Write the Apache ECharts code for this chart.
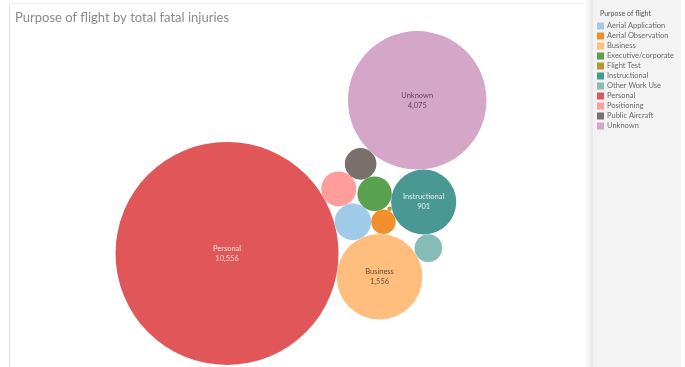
<!DOCTYPE html>
<html>
<head>
<meta charset="utf-8">
<script src="https://cdn.jsdelivr.net/npm/echarts@6/dist/echarts.min.js"></script>
<style>
  html, body { margin: 0; padding: 0; background: #ffffff; }
  #chart { width: 685px; height: 367px; }
</style>
</head>
<body>
<div id="chart"></div>
<script>
// Purpose of flight and total fatal injuries
const categories = [
  'Aerial Application', 'Aerial Observation', 'Business', 'Executive/corporate',
  'Flight Test', 'Instructional', 'Other Work Use', 'Personal',
  'Positioning', 'Public Aircraft', 'Unknown'
];
const fatalInjuries = [284, 128, 1556, 251, 4, 901, 162, 10556, 260, 212, 4075];

const palette = {
  'Aerial Application': '#a0cbe8',
  'Aerial Observation': '#f28e2b',
  'Business': '#ffbe7d',
  'Executive/corporate': '#59a14f',
  'Flight Test': '#b6992d',
  'Instructional': '#499894',
  'Other Work Use': '#86bcb6',
  'Personal': '#e15759',
  'Positioning': '#ff9d9a',
  'Public Aircraft': '#79706e',
  'Unknown': '#d4a6c8'
};
const labelColors = {
  'Personal': 'rgba(255,235,235,0.9)',
  'Instructional': 'rgba(240,250,249,0.9)',
  'Business': 'rgba(70,55,40,0.85)',
  'Unknown': 'rgba(80,50,80,0.85)'
};

const W = 685, H = 367;
// pane that holds the bubbles (left of the legend, below the title)
const pane = { x0: 9, x1: 593, y0: 29, y1: 367 };
const maxRadius = 111.5;              // radius of the largest bubble, px
const maxValue = Math.max(...fatalInjuries);
const radiusOf = v => maxRadius * Math.sqrt(v / maxValue);

// Packing order: each bubble touches the two named ones.
const firstAngle = 8.7 * Math.PI / 180;
const packSteps = [
  ['Aerial Application', 'Personal', 'Business'],
  ['Aerial Observation', 'Aerial Application', 'Business'],
  ['Positioning', 'Personal', 'Aerial Application'],
  ['Executive/corporate', 'Aerial Application', 'Aerial Observation'],
  ['Public Aircraft', 'Positioning', 'Executive/corporate'],
  ['Instructional', 'Executive/corporate', 'Aerial Observation'],
  ['Other Work Use', 'Instructional', 'Business'],
  ['Unknown', 'Public Aircraft', 'Instructional'],
  ['Flight Test', 'Aerial Observation', 'Instructional']
];

function touching(a, b, r) {
  const dx = b.x - a.x, dy = b.y - a.y;
  const d = Math.hypot(dx, dy);
  const ra = a.r + r, rb = b.r + r;
  const t = (ra * ra - rb * rb + d * d) / (2 * d);
  const h = Math.sqrt(Math.max(0, ra * ra - t * t));
  const ux = dx / d, uy = dy / d;
  return { x: a.x + t * ux + h * uy, y: a.y + t * uy - h * ux, r: r };
}

function packBubbles() {
  const circles = {};
  categories.forEach((c, i) => { circles[c] = { r: radiusOf(fatalInjuries[i]) }; });
  const big = circles['Personal'];
  big.x = 0; big.y = 0;
  const biz = circles['Business'];
  biz.x = (big.r + biz.r) * Math.cos(firstAngle);
  biz.y = (big.r + biz.r) * Math.sin(firstAngle);
  packSteps.forEach(([name, a, b]) => {
    const p = touching(circles[a], circles[b], circles[name].r);
    circles[name].x = p.x; circles[name].y = p.y;
  });
  // centre the cluster in the pane
  let minX = Infinity, maxX = -Infinity, minY = Infinity, maxY = -Infinity;
  Object.values(circles).forEach(c => {
    minX = Math.min(minX, c.x - c.r); maxX = Math.max(maxX, c.x + c.r);
    minY = Math.min(minY, c.y - c.r); maxY = Math.max(maxY, c.y + c.r);
  });
  const sx = (pane.x0 + pane.x1) / 2 - (minX + maxX) / 2;
  const sy = (pane.y0 + pane.y1) / 2 - (minY + maxY) / 2;
  Object.values(circles).forEach(c => { c.x += sx; c.y += sy; });
  return circles;
}

const packed = packBubbles();
const fmt = v => v.toLocaleString('en-US');
const fontFamily = 'Lato, "Noto Sans", sans-serif';

const series = categories.map((name, i) => {
  const c = packed[name];
  const showLabel = c.r >= 30;
  return {
    name: name,
    type: 'scatter',
    data: [[c.x, c.y, fatalInjuries[i]]],
    symbolSize: 2 * c.r,
    itemStyle: { color: palette[name], opacity: 1 },
    emphasis: { disabled: true },
    label: {
      show: showLabel,
      position: 'inside',
      formatter: p => name + '\n' + fmt(p.value[2]),
      fontFamily: fontFamily,
      fontSize: 7.5,
      lineHeight: 10,
      color: labelColors[name] || '#333'
    }
  };
});

const chart = echarts.init(document.getElementById('chart'), null, { renderer: 'canvas' });
chart.setOption({
  animation: false,
  backgroundColor: '#ffffff',
  grid: { left: 0, top: 0, width: W, height: H, containLabel: false },
  xAxis: { type: 'value', min: 0, max: W, show: false },
  yAxis: { type: 'value', min: 0, max: H, inverse: true, show: false },
  legend: {
    orient: 'vertical',
    left: 597,
    top: 22,
    padding: 0,
    itemWidth: 7,
    itemHeight: 7,
    itemGap: 2,
    icon: 'rect',
    selectedMode: false,
    data: categories,
    textStyle: { fontFamily: fontFamily, fontSize: 7.5, lineHeight: 7, color: '#6a6a6a', padding: [0, 0, 0, -2] }
  },
  graphic: [
    { type: 'rect', z: -10, shape: { x: 584, y: 0, width: 10, height: H },
      style: { fill: new echarts.graphic.LinearGradient(0, 0, 1, 0, [
        { offset: 0, color: 'rgba(235,235,235,0)' }, { offset: 1, color: 'rgba(228,228,228,1)' }]) } },
    { type: 'rect', z: -10, shape: { x: 593, y: 0, width: 88, height: H }, style: { fill: '#f3f3f3' } },
    { type: 'line', z: -5, shape: { x1: 9.5, y1: 3, x2: 9.5, y2: H }, style: { stroke: '#e2e2e2', lineWidth: 1 } },
    { type: 'line', z: -5, shape: { x1: 9, y1: 3.5, x2: 584, y2: 3.5 }, style: { stroke: '#f0f0f0', lineWidth: 1 } },
    { type: 'text', left: 15, top: 11,
      style: { text: 'Purpose of flight by total fatal injuries', font: '13px ' + fontFamily, fill: '#8a8a8a' } },
    { type: 'text', left: 600, top: 10,
      style: { text: 'Purpose of flight', font: '7px ' + fontFamily, fill: '#555555' } }
  ],
  series: series
});
</script>
</body>
</html>
